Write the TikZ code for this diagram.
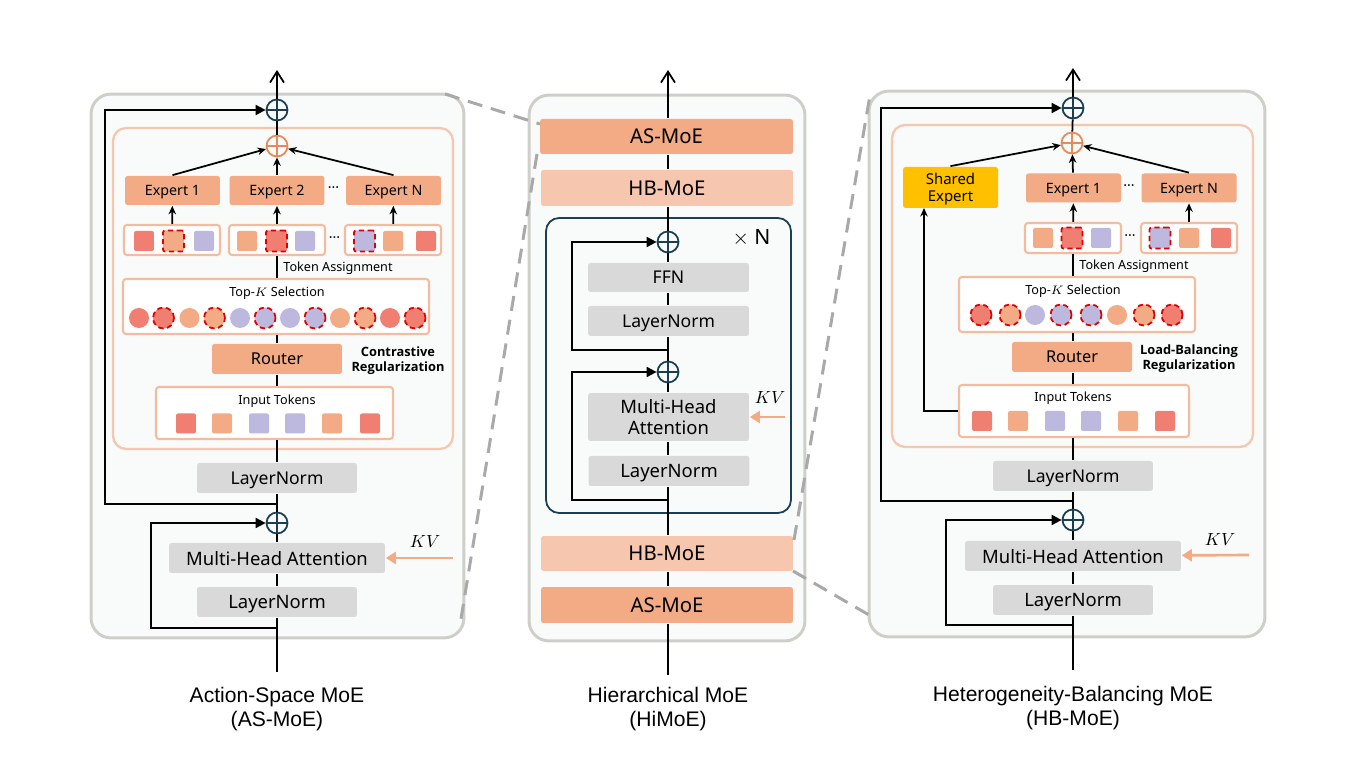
\documentclass[tikz,border=0pt]{standalone}
\usepackage{fontspec}
\setmainfont{Noto Sans}
\newfontfamily\capfont{Liberation Sans}
\newfontfamily\boldfam{Open Sans}
\usetikzlibrary{arrows.meta}
\definecolor{panelfill}{HTML}{F8FBFA}
\definecolor{panelline}{HTML}{CFCFC9}
\definecolor{boxorange}{HTML}{F2AB85}
\definecolor{boxpale}{HTML}{F6C6AE}
\definecolor{boxgray}{HTML}{D9D9D9}
\definecolor{tokred}{HTML}{F07F72}
\definecolor{tokpurple}{HTML}{BDB8DE}
\definecolor{darkblue}{HTML}{1A3F55}
\definecolor{plusorange}{HTML}{E58B5A}
\definecolor{dashgray}{HTML}{A9A9A9}
\definecolor{shared}{HTML}{FFC000}
\begin{document}
\begin{tikzpicture}[x=0.02cm,y=-0.02cm,thick,line width=1pt,
  panel node/.style={draw=panelline,line width=1.7pt,fill=panelfill,rounded corners=0.4cm},
  inner node/.style={draw=boxpale,line width=1.3pt,fill=panelfill,rounded corners=0.26cm},
  stack node/.style={draw=darkblue,line width=1pt,fill=panelfill,rounded corners=0.26cm},
  white node/.style={draw=boxpale!60!boxorange,line width=1.2pt,fill=white,rounded corners=0.06cm},
  gray node/.style={fill=boxgray,rounded corners=0.05cm,font=\fontsize{10.5}{12.5}\selectfont,align=center,inner sep=0pt,text depth=0pt},
  orange node/.style={fill=boxorange,rounded corners=0.05cm,font=\fontsize{11.6}{13}\selectfont,inner sep=0pt,text depth=0pt},
  pale node/.style={fill=boxpale,rounded corners=0.05cm,font=\fontsize{11.6}{13}\selectfont,inner sep=0pt,text depth=0pt},
  expert node/.style={fill=boxorange,rounded corners=0.05cm,minimum width=1.9cm,minimum height=0.58cm,font=\fontsize{8.1}{10}\selectfont,inner sep=0pt,text depth=0pt},
  plus node/.style={circle,draw=#1,line width=1pt,fill=panelfill,minimum size=0.42cm,inner sep=0pt,
    path picture={\draw[#1,line width=1pt] (path picture bounding box.north) -- (path picture bounding box.south)
      (path picture bounding box.west) -- (path picture bounding box.east);}},
  red sq/.style={fill=tokred,rounded corners=0.04cm,minimum size=0.4cm,inner sep=0pt},
  org sq/.style={fill=boxorange,rounded corners=0.04cm,minimum size=0.4cm,inner sep=0pt},
  pur sq/.style={fill=tokpurple,rounded corners=0.04cm,minimum size=0.4cm,inner sep=0pt},
  red dot/.style={circle,fill=tokred,minimum size=0.4cm,inner sep=0pt},
  org dot/.style={circle,fill=boxorange,minimum size=0.4cm,inner sep=0pt},
  pur dot/.style={circle,fill=tokpurple,minimum size=0.4cm,inner sep=0pt},
  picked/.style={draw=red!88!black,densely dashed,line width=1pt,minimum size=0.42cm},
  small text/.style={font=\fontsize{7.2}{9}\selectfont,inner sep=0pt,text depth=0pt},
  bold text/.style={font=\boldfam\fontsize{7.3}{8.3}\selectfont\bfseries,align=center,inner sep=0pt,text depth=0pt},
  dots text/.style={font=\fontsize{8}{10}\selectfont,inner sep=0pt},
  caption text/.style={font=\capfont\fontsize{12}{14}\selectfont,align=center,inner sep=0pt},
  dash line/.style={draw=dashgray,line width=1.7pt,dash pattern=on 0.3cm off 0.18cm},
  main arrow/.style={-{Straight Barb[length=2.2mm,width=2.8mm,line width=1pt]}},
  up arrow/.style={-{Stealth[length=1.7mm,width=1.5mm]}},
  skip arrow/.style={-{Triangle[length=2mm,width=2mm]}},
  kv arrow/.style={draw=boxorange,line width=1.5pt,-{Triangle[length=2mm,width=2.4mm]}}]
\useasboundingbox (0,0) rectangle (1356,759);

  % panels
  \node[panel node,minimum width=7.46cm,minimum height=10.88cm] (p1) at (277.5,366) {};
  \node[panel node,minimum width=5.52cm,minimum height=10.92cm] (p2) at (667,368) {};
  \node[panel node,minimum width=7.92cm,minimum height=10.92cm] (p3) at (1067,364) {};

  % left: Action-Space MoE
  \node[inner node,minimum width=6.8cm,minimum height=6.42cm] (a0) at (283,288.5) {};
  \coordinate (a in) at (277,672);
  \coordinate (a out) at (277,70);
  \coordinate (a s1) at (277,628);
  \coordinate (a c1) at (151,628);
  \coordinate (a s2) at (277,504);
  \coordinate (a c2) at (105,504);
  \coordinate (a kv) at (453,558);
  \node[gray node,minimum width=3.2cm,minimum height=0.6cm] (a1) at (277,602) {LayerNorm};
  \node[gray node,minimum width=4.32cm,minimum height=0.6cm] (a2) at (277,558) {Multi-Head Attention};
  \node[plus node=darkblue] (a3) at (277,523) {};
  \node[gray node,minimum width=3.2cm,minimum height=0.6cm,font=\fontsize{10}{12}\selectfont] (a4) at (277,478) {LayerNorm};
  \node[white node,minimum width=4.74cm,minimum height=1.04cm] (a5) at (274.5,413) {};
  \node[small text] (a5t) at (277,400) {Input Tokens};
  \node[orange node,minimum width=2.6cm,minimum height=0.6cm,font=\fontsize{9.3}{11}\selectfont] (a6) at (277,359) {Router};
  \node[bold text] (a6t) at (398,359) {Contrastive\\Regularization};
  \node[white node,minimum width=6.12cm,minimum height=1.1cm] (a7) at (276,306.5) {};
  \node[small text] (a7t) at (277,292) {Top-$K$ Selection};
  \node[small text] (a8t) at (338,267) {Token Assignment};
  \node[white node,minimum width=1.92cm,minimum height=0.6cm] (a9) at (172,240) {};
  \node[white node,minimum width=1.92cm,minimum height=0.6cm] (a10) at (277,240) {};
  \node[white node,minimum width=1.92cm,minimum height=0.6cm] (a11) at (393,240) {};
  \node[expert node] (a12) at (172.5,190.5) {Expert 1};
  \node[expert node] (a13) at (277,190.5) {Expert 2};
  \node[expert node] (a14) at (393.5,190.5) {Expert N};
  \node[dots text] (a15) at (333.5,190) {···};
  \node[dots text] (a16) at (334.5,240) {···};
  \node[plus node=plusorange] (a17) at (277,146) {};
  \node[plus node=darkblue] (a18) at (277,110) {};
  \node[inner sep=0pt] (a19) at (425,542) {$KV$};
  % left tokens
  \node[red sq] (at1) at (186,423.5) {};
  \node[org sq] (at2) at (222,423.5) {};
  \node[pur sq] (at3) at (259,423.5) {};
  \node[pur sq] (at4) at (295,423.5) {};
  \node[org sq] (at5) at (332,423.5) {};
  \node[red sq] (at6) at (370,423.5) {};
  \node[red dot] (ad1) at (139,318) {};
  \node[red dot,picked] (ad2) at (163.5,318) {};
  \node[org dot] (ad3) at (189.5,318) {};
  \node[org dot,picked] (ad4) at (214.5,318) {};
  \node[pur dot] (ad5) at (240,318) {};
  \node[pur dot,picked] (ad6) at (265,318) {};
  \node[pur dot] (ad7) at (290,318) {};
  \node[pur dot,picked] (ad8) at (315,318) {};
  \node[org dot] (ad9) at (340,318) {};
  \node[org dot,picked] (ad10) at (365,318) {};
  \node[red dot] (ad11) at (390,318) {};
  \node[red dot,picked] (ad12) at (415,318) {};
  \node[red sq] (as1) at (144,241) {};
  \node[org sq,picked] (as2) at (173.5,241) {};
  \node[pur sq] (as3) at (204,241) {};
  \node[org sq] (as4) at (247,241) {};
  \node[red sq,picked] (as5) at (276.5,241) {};
  \node[pur sq] (as6) at (305,241) {};
  \node[pur sq,picked] (as7) at (364.5,241) {};
  \node[org sq] (as8) at (393,241) {};
  \node[red sq] (as9) at (426,241) {};

  % middle: Hierarchical MoE
  \node[stack node,minimum width=4.9cm,minimum height=5.9cm] (m0) at (668.5,365.5) {};
  \coordinate (m in) at (668,675);
  \coordinate (m out) at (668,70);
  \coordinate (m s1) at (668,500);
  \coordinate (m c1) at (572,500);
  \coordinate (m s2) at (668,350);
  \coordinate (m c2) at (572,350);
  \coordinate (m kv) at (785,417);
  \node[orange node,minimum width=5.04cm,minimum height=0.72cm] (m1) at (667,605) {AS-MoE};
  \node[pale node,minimum width=5.04cm,minimum height=0.7cm] (m2) at (667,553.5) {HB-MoE};
  \node[gray node,minimum width=3.22cm,minimum height=0.6cm] (m3) at (669,471) {LayerNorm};
  \node[gray node,minimum width=3.22cm,minimum height=0.96cm] (m4) at (668.5,417) {Multi-Head\\Attention};
  \node[plus node=darkblue] (m5) at (668,372) {};
  \node[gray node,minimum width=3.22cm,minimum height=0.6cm,font=\fontsize{10}{12}\selectfont] (m6) at (668.5,321) {LayerNorm};
  \node[gray node,minimum width=3.22cm,minimum height=0.58cm,font=\fontsize{10}{12}\selectfont] (m7) at (668.5,277.5) {FFN};
  \node[plus node=darkblue] (m8) at (668,242) {};
  \node[pale node,minimum width=5.04cm,minimum height=0.72cm] (m9) at (667,188) {HB-MoE};
  \node[orange node,minimum width=5.06cm,minimum height=0.7cm] (m10) at (666.5,136.5) {AS-MoE};
  \node[inner sep=0pt] (m11) at (770,398) {$KV$};
  \node[inner sep=0pt,font=\fontsize{12}{14}\selectfont] (m12) at (751.5,238) {$\times\ \mathrm{N}$};

  % right: Heterogeneity-Balancing MoE
  \node[inner node,minimum width=7.22cm,minimum height=6.44cm] (b0) at (1072.5,286) {};
  \coordinate (b in) at (1073,670);
  \coordinate (b out) at (1073,68);
  \coordinate (b s1) at (1073,625);
  \coordinate (b c1) at (946,625);
  \coordinate (b s2) at (1073,501);
  \coordinate (b c2) at (881,501);
  \coordinate (b kv) at (1249,555);
  \coordinate (b c3) at (924,411);
  \coordinate (b c4) at (924,208);
  \node[gray node,minimum width=3.2cm,minimum height=0.6cm] (b1) at (1073,600) {LayerNorm};
  \node[gray node,minimum width=4.32cm,minimum height=0.6cm] (b2) at (1073,556) {Multi-Head Attention};
  \node[plus node=darkblue] (b3) at (1073,520) {};
  \node[gray node,minimum width=3.2cm,minimum height=0.6cm,font=\fontsize{10}{12}\selectfont] (b4) at (1073,476) {LayerNorm};
  \node[white node,minimum width=4.6cm,minimum height=1.04cm] (b5) at (1074,411) {};
  \node[small text] (b5t) at (1073,397) {Input Tokens};
  \node[orange node,minimum width=2.4cm,minimum height=0.6cm,font=\fontsize{9.3}{11}\selectfont] (b6) at (1072,357) {Router};
  \node[bold text] (b6t) at (1189,357) {Load-Balancing\\Regularization};
  \node[white node,minimum width=4.72cm,minimum height=1.1cm] (b7) at (1077,304.5) {};
  \node[small text] (b7t) at (1073,290) {Top-$K$ Selection};
  \node[small text] (b8t) at (1134,265) {Token Assignment};
  \node[white node,minimum width=1.92cm,minimum height=0.6cm] (b9) at (1073,238) {};
  \node[white node,minimum width=1.92cm,minimum height=0.6cm] (b10) at (1189,238) {};
  \node[expert node] (b11) at (1073.5,188) {Expert 1};
  \node[expert node] (b12) at (1189,188) {Expert N};
  \node[fill=shared,rounded corners=0.05cm,minimum width=1.9cm,minimum height=0.82cm,align=center,inner sep=0pt,text depth=0pt,font=\fontsize{8.5}{9.8}\selectfont] (b13) at (950.5,187.5) {Shared\\Expert};
  \node[dots text] (b14) at (1129,188) {···};
  \node[dots text] (b15) at (1130,238) {···};
  \node[plus node=plusorange] (b16) at (1072,143) {};
  \node[plus node=darkblue] (b17) at (1073,108) {};
  \node[inner sep=0pt] (b18) at (1220,540) {$KV$};
  % right tokens
  \node[red sq] (bt1) at (982,421) {};
  \node[org sq] (bt2) at (1018,421) {};
  \node[pur sq] (bt3) at (1055,421) {};
  \node[pur sq] (bt4) at (1091,421) {};
  \node[org sq] (bt5) at (1128,421) {};
  \node[red sq] (bt6) at (1165,421) {};
  \node[red dot,picked] (bd1) at (981,315) {};
  \node[org dot,picked] (bd2) at (1010,315) {};
  \node[pur dot] (bd3) at (1035,315) {};
  \node[pur dot,picked] (bd4) at (1061,315) {};
  \node[pur dot,picked] (bd5) at (1091,315) {};
  \node[org dot] (bd6) at (1117,315) {};
  \node[org dot,picked] (bd7) at (1144,315) {};
  \node[red dot,picked] (bd8) at (1172,315) {};
  \node[org sq] (bs1) at (1043,238) {};
  \node[red sq,picked] (bs2) at (1072,238) {};
  \node[pur sq] (bs3) at (1101,238) {};
  \node[pur sq,picked] (bs4) at (1160,238) {};
  \node[org sq] (bs5) at (1189,238) {};
  \node[red sq] (bs6) at (1221,238) {};

  % captions
  \node[caption text] (c1) at (277,709) {Action-Space MoE\\(AS-MoE)};
  \node[caption text] (c2) at (668,709) {Hierarchical MoE\\(HiMoE)};
  \node[caption text] (c3) at (1073,708) {Heterogeneity-Balancing MoE\\(HB-MoE)};

  % zoom lines
  \coordinate (z1) at (445,94);
  \coordinate (z2) at (540,124);
  \coordinate (z3) at (537,154);
  \coordinate (z4) at (460,625);
  \coordinate (z5) at (794,540);
  \coordinate (z6) at (870,95);
  \coordinate (z7) at (793,571);
  \coordinate (z8) at (876,619);
  \path[dash line] (z1) edge (z2) (z3) edge (z4) (z5) edge (z6) (z7) edge (z8);

\path[black]
  (a in) edge (a1)
  (a1) edge (a2)
  (a2) edge (a3)
  (a3) edge (a4)
  (a4) edge (a4 |- a5.south)
  (a5.north -| a6) edge (a6)
  (a6) edge (a6 |- a7.south)
  (a7.north -| a10) edge (a10)
  (a17) edge (a18)
  (a18) edge[main arrow] (a out)
  (m in) edge (m in |- m1.south)
  (m in |- m1.north) edge (m in |- m2.south)
  (m in |- m2.north) edge (m in |- m3.south)
  (m in |- m3.north) edge (m in |- m4.south)
  (m in |- m4.north) edge (m5)
  (m5) edge (m in |- m6.south)
  (m in |- m6.north) edge (m in |- m7.south)
  (m in |- m7.north) edge (m8)
  (m8) edge (m in |- m9.south)
  (m in |- m9.north) edge (m in |- m10.south)
  (m in |- m10.north) edge[main arrow] (m out)
  (b in) edge (b1)
  (b1) edge (b2)
  (b2) edge (b3)
  (b3) edge (b4)
  (b4) edge (b4 |- b5.south)
  (b5.north -| b4) edge (b4 |- b6.south)
  (b4 |- b6.north) edge (b4 |- b7.south)
  (b7.north -| b4) edge (b4 |- b9.south)
  (b16) edge (b17)
  (b17) edge[main arrow] (b out)
;
\path[up arrow]
  (a9) edge (a12)
  (a10) edge (a13)
  (a11) edge (a14)
  (a12.north) edge (a17)
  (a13) edge (a17)
  (a14.north) edge (a17)
  (b9) edge (b11)
  (b10) edge (b12)
  (b11) edge (b16)
  (b12.north) edge (b16)
  (b13.north) edge (b16)
;
  \draw[up arrow] (b5.west |- b c3) -- (b c3) -- (b c4);
  \draw[skip arrow] (a s1) -- (a c1) |- (a3);
  \draw[skip arrow] (a s2) -- (a c2) |- (a18);
  \draw[skip arrow] (m s1) -- (m c1) |- (m5);
  \draw[skip arrow] (m s2) -- (m c2) |- (m8);
  \draw[skip arrow] (b s1) -- (b c1) |- (b3);
  \draw[skip arrow] (b s2) -- (b c2) |- (b17);
  \draw[kv arrow] (a kv) -- (a2);
  \draw[kv arrow] (m kv) -- (m4);
  \draw[kv arrow] (b kv) -- (b2);
\end{tikzpicture}
\end{document}
